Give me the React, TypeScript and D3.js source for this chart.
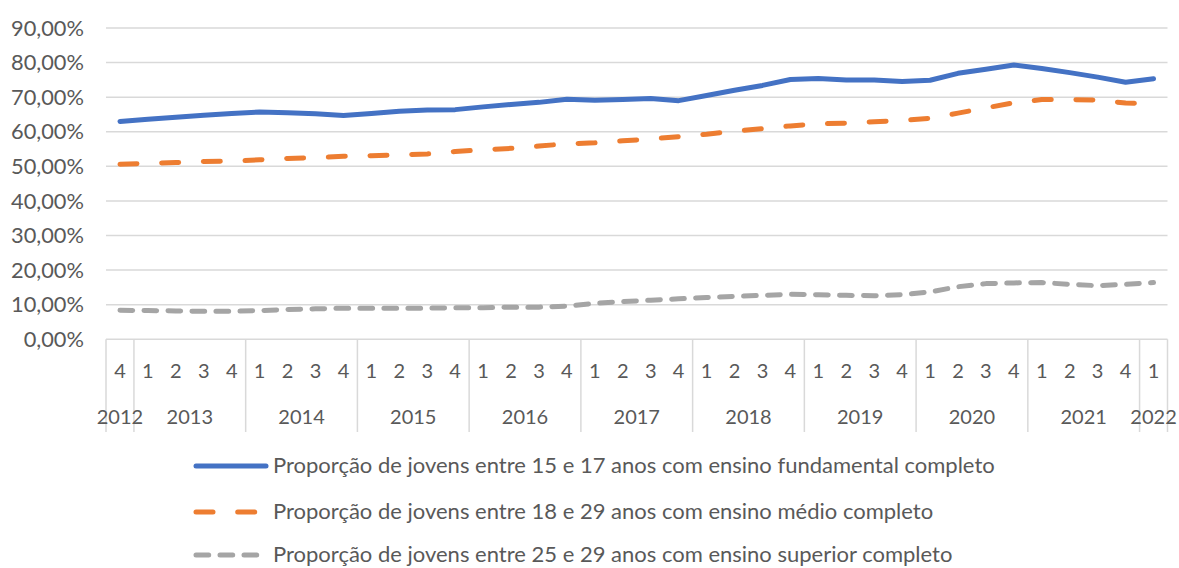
import { useEffect, useRef } from "react"
import * as d3 from "d3"

// quarter label of every point, 2012 Q4 .. 2022 Q1
const quarterLabels = [
  "4",
  "1", "2", "3", "4",
  "1", "2", "3", "4",
  "1", "2", "3", "4",
  "1", "2", "3", "4",
  "1", "2", "3", "4",
  "1", "2", "3", "4",
  "1", "2", "3", "4",
  "1", "2", "3", "4",
  "1", "2", "3", "4",
  "1",
]
const yearLabels = ["2012", "2013", "2014", "2015", "2016", "2017", "2018", "2019", "2020", "2021", "2022"]
const yearQuarterCount = [1, 4, 4, 4, 4, 4, 4, 4, 4, 4, 1]

// values in %
const fundamental = [
  63.0, 63.6, 64.2, 64.8, 65.3, 65.7, 65.5, 65.2, 64.7, 65.3,
  65.9, 66.3, 66.4, 67.2, 67.9, 68.5, 69.4, 69.1, 69.3, 69.6,
  69.0, 70.5, 72.0, 73.4, 75.1, 75.4, 75.0, 75.0, 74.5, 74.9,
  76.9, 78.1, 79.3, 78.3, 77.1, 75.8, 74.3, 75.3,
]
const medio = [
  50.6, 50.9, 51.1, 51.4, 51.5, 51.9, 52.3, 52.5, 52.9, 53.1,
  53.3, 53.6, 54.3, 54.8, 55.2, 55.9, 56.5, 56.8, 57.4, 57.9,
  58.6, 59.3, 60.2, 60.9, 61.7, 62.3, 62.5, 62.9, 63.3, 63.9,
  65.4, 66.9, 68.4, 69.3, 69.3, 69.2, 68.3, 68.2,
]
const superior = [
  8.4, 8.3, 8.2, 8.1, 8.1, 8.3, 8.6, 8.8, 9.0, 9.0,
  9.0, 9.0, 9.1, 9.1, 9.3, 9.3, 9.6, 10.4, 10.9, 11.3,
  11.7, 12.1, 12.4, 12.7, 13.0, 12.9, 12.7, 12.6, 12.9, 13.7,
  15.2, 16.1, 16.3, 16.4, 15.9, 15.5, 15.9, 16.4,
]

const seriesNames = [
  "Proporção de jovens entre 15 e 17 anos com ensino fundamental completo",
  "Proporção de jovens entre 18 e 29 anos com ensino médio completo",
  "Proporção de jovens entre 25 e 29 anos com ensino superior completo",
]
const seriesColors = ["#4472C4", "#ED7D31", "#A5A5A5"]
const seriesDash = [null, "17 24.7", "12.7 11.3"]

const yTicks = [0, 10, 20, 30, 40, 50, 60, 70, 80, 90]

export default function App() {
  const ref = useRef<SVGSVGElement | null>(null)

  useEffect(() => {
    const width = 1179
    const height = 568
    const marginLeft = 106
    const marginRight = 11.5
    const yTop = 28
    const yBottom = 339.3
    const font = "Lato, 'Open Sans', sans-serif"
    const textColor = "#595959"
    const gridColor = "#D9D9D9"

    const svg = d3.select(ref.current)
    svg.selectAll("*").remove()
    svg.attr("width", width).attr("height", height).attr("viewBox", [0, 0, width, height].join(" "))

    const idx = quarterLabels.map((_, i) => i)
    const x = d3.scaleBand<number>()
      .domain(idx)
      .range([marginLeft, width - marginRight])
    const y = d3.scaleLinear()
      .domain([0, 90])
      .range([yBottom, yTop])

    // gridlines
    svg.append("g")
      .selectAll("line")
      .data(yTicks)
      .join("line")
        .attr("x1", marginLeft)
        .attr("x2", width - marginRight)
        .attr("y1", d => y(d))
        .attr("y2", d => y(d))
        .attr("stroke", gridColor)
        .attr("stroke-width", 1.5)

    // y labels
    svg.append("g")
        .attr("fill", textColor)
        .attr("font-family", font)
        .attr("font-size", 21.8)
        .attr("text-anchor", "end")
      .selectAll("text")
      .data(yTicks)
      .join("text")
        .attr("x", 84)
        .attr("y", d => y(d))
        .attr("dy", "0.35em")
        .text(d => d3.format(".2f")(d).replace(".", ",") + "%")

    // multi-level category axis: separators between years
    let acc = 0
    const bounds = [0]
    yearQuarterCount.forEach(n => { acc += n; bounds.push(acc) })
    const bx = (k: number) => k < idx.length ? x(k)! : width - marginRight
    svg.append("g")
      .selectAll("line")
      .data(bounds)
      .join("line")
        .attr("x1", d => bx(d))
        .attr("x2", d => bx(d))
        .attr("y1", yBottom)
        .attr("y2", 432)
        .attr("stroke", gridColor)
        .attr("stroke-width", 1.5)

    svg.append("g")
        .attr("fill", textColor)
        .attr("font-family", font)
        .attr("font-size", 20)
        .attr("text-anchor", "middle")
      .selectAll("text")
      .data(quarterLabels)
      .join("text")
        .attr("x", (_, i) => x(i)! + x.bandwidth() / 2)
        .attr("y", 371)
        .attr("dy", "0.35em")
        .text(d => d)

    svg.append("g")
        .attr("fill", textColor)
        .attr("font-family", font)
        .attr("font-size", 20)
        .attr("text-anchor", "middle")
      .selectAll("text")
      .data(yearLabels)
      .join("text")
        .attr("x", (_, i) => (bx(bounds[i]) + bx(bounds[i + 1])) / 2)
        .attr("y", 417)
        .attr("dy", "0.35em")
        .text(d => d)

    // lines
    const allSeries = [fundamental, medio, superior]
    const line = d3.line<number>()
      .x((_, i) => x(i)! + x.bandwidth() / 2)
      .y(d => y(d))

    allSeries.slice().reverse().forEach((values, r) => {
      const k = allSeries.length - 1 - r
      svg.append("path")
        .datum(values)
        .attr("fill", "none")
        .attr("stroke", seriesColors[k])
        .attr("stroke-width", 5)
        .attr("stroke-linecap", "round")
        .attr("stroke-linejoin", "round")
        .attr("stroke-dasharray", seriesDash[k])
        .attr("d", line)
    })

    // legend
    const legendY = [466, 512, 555]
    const legend = svg.append("g")
    legend.selectAll("line")
      .data(seriesNames)
      .join("line")
        .attr("x1", 196)
        .attr("x2", 266)
        .attr("y1", (_, i) => legendY[i])
        .attr("y2", (_, i) => legendY[i])
        .attr("stroke", (_, i) => seriesColors[i])
        .attr("stroke-width", 5)
        .attr("stroke-linecap", "round")
        .attr("stroke-dasharray", (_, i) => seriesDash[i])
    legend.selectAll("text")
      .data(seriesNames)
      .join("text")
        .attr("x", 273)
        .attr("y", (_, i) => legendY[i])
        .attr("dy", "0.32em")
        .attr("fill", textColor)
        .attr("font-family", font)
        .attr("font-size", 22)
        .text(d => d)
  }, [])

  return (
    <div style={{ position: "absolute", left: 0, top: 0 }}>
      <svg ref={ref} style={{ display: "block", background: "#fff" }} />
    </div>
  )
}
